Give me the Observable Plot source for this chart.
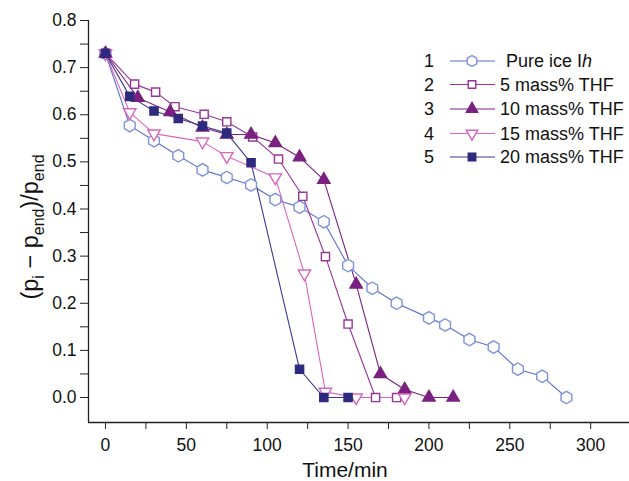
<!DOCTYPE html>
<html><head><meta charset="utf-8">
<script src="https://cdn.jsdelivr.net/npm/d3@7"></script>
<script src="https://cdn.jsdelivr.net/npm/@observablehq/plot@0.6"></script>
<style>body{margin:0;background:#fff}#chart{position:relative;width:629px;height:481px}</style>
</head><body><div id="chart"></div>
<script>
// ---- data ----
const seriesNames = ["Pure ice Ih", "5 mass% THF", "10 mass% THF", "15 mass% THF", "20 mass% THF"];
const t1 = [0,15,30,45,60,75,90,105,120,135,150,165,180,200,210,225,240,255,270,285];
const v1 = [0.73,0.577,0.545,0.513,0.483,0.467,0.451,0.42,0.404,0.373,0.28,0.232,0.2,0.169,0.154,0.123,0.107,0.06,0.045,0.0];
const t2 = [0,18,31,43,61,75,91,107,122,136,150,167,180];
const v2 = [0.73,0.665,0.648,0.617,0.601,0.585,0.553,0.506,0.427,0.299,0.156,0.0,0.0];
const t3 = [0,20,40,60,75,90,105,120,135,155,170,185,200,215];
const v3 = [0.73,0.636,0.606,0.573,0.558,0.558,0.54,0.51,0.462,0.24,0.05,0.017,0.0,0.0];
const t4 = [0,15,30,60,75,105,123,136,155,185];
const v4 = [0.73,0.605,0.56,0.543,0.512,0.467,0.263,0.012,0.0,0.0];
const t5 = [0,15,30,45,60,75,90,120,135,150];
const v5 = [0.73,0.639,0.608,0.592,0.576,0.561,0.498,0.06,0.0,0.0];
const xMajor = [0,50,100,150,200,250,300];
const xMinor = [25,75,125,175,225,275,325];
const yMajor = [0,0.1,0.2,0.3,0.4,0.5,0.6,0.7,0.8];
const yMinor = [0.05,0.15,0.25,0.35,0.45,0.55,0.65,0.75];

// ---- styles ----
const styles = [
  {line:"#5a6fcc", stroke:"#7f92dc", fill:"white", symbol:"hexagon", r:5.4, rotate:0},
  {line:"#96359a", stroke:"#96359a", fill:"white", symbol:"square", r:4.6, rotate:0},
  {line:"#7a2080", stroke:"#7a2080", fill:"#7a2080", symbol:"triangle", r:4.6, rotate:0},
  {line:"#d865bd", stroke:"#d865bd", fill:"white", symbol:"triangle", r:4.6, rotate:180},
  {line:"#3b3990", stroke:"#2e2b7e", fill:"#2e2b7e", symbol:"square", r:4.6, rotate:0}
];
const times = [t1,t2,t3,t4,t5], vals = [v1,v2,v3,v4,v5];
const series = times.map((t,i)=>t.map((x,j)=>({t:x, v:vals[i][j], s:i})));

const xDom = [-10.5, 324], yDom = [-0.053, 0.8];
const font = "'Liberation Sans', Arial, Helvetica, sans-serif";

const marks = [
  Plot.ruleX([xDom[0]], {stroke:"#222", strokeWidth:1.3}),
  Plot.ruleY([yDom[0]], {stroke:"#222", strokeWidth:1.3}),
  Plot.axisX(xMajor, {tickSize:7, tickPadding:9, tickFormat:d=>String(d), label:null, fontSize:17.5, stroke:"#222", fill:"#111"}),
  Plot.axisX(xMinor, {tickSize:7, tickFormat:()=>"" , label:null, stroke:"#222"}),
  Plot.axisY(yMajor, {tickSize:8, tickPadding:4, tickFormat:d3.format(".1f"), label:null, fontSize:17.5, stroke:"#222", fill:"#111"}),
  Plot.axisY(yMinor, {tickSize:8, tickFormat:()=>"", label:null, stroke:"#222"})
];
series.forEach((d,i)=>{
  const st = styles[i];
  marks.push(Plot.line(d, {x:"t", y:"v", stroke:st.line, strokeWidth:1.1}));
});
series.forEach((d,i)=>{
  const st = styles[i];
  marks.push(Plot.dot(d, {x:"t", y:"v", symbol:()=>st.symbol, r:st.r, rotate:st.rotate, stroke:st.stroke, fill:st.fill, strokeWidth:1.4}));
});

const chart = Plot.plot({
  width:629, height:481, marginLeft:88, marginRight:0, marginTop:20, marginBottom:59,
  x:{domain:xDom}, y:{domain:yDom},
  symbol:{type:"identity"},
  style:{fontFamily:font, fontSize:"17.5px", background:"white", color:"#111"},
  marks
});
document.getElementById("chart").appendChild(chart);

// titles and legend
const svg = d3.select(chart);
svg.append("text").attr("x",345).attr("y",476.5).attr("text-anchor","middle")
  .attr("font-family",font).attr("font-size",21).attr("fill","#111").text("Time/min");
const yl = svg.append("text").attr("transform","translate(38,227) rotate(-90)").attr("text-anchor","middle")
  .attr("font-family",font).attr("font-size",23.5).attr("fill","#111");
yl.append("tspan").text("(p");
yl.append("tspan").attr("font-size",16).attr("dy",6).text("i");
yl.append("tspan").attr("dy",-6).text(" \u2212 p");
yl.append("tspan").attr("font-size",16).attr("dy",6).text("end");
yl.append("tspan").attr("dy",-6).text(")/p");
yl.append("tspan").attr("font-size",16).attr("dy",6).text("end");

const rowsY = [61,84.5,109,133.5,157];
const sym = {hexagon:d3.symbol().type({draw(ctx,size){const r=Math.sqrt(size/(3*Math.sqrt(3)/2));for(let k=0;k<6;k++){const a=Math.PI/3*k-Math.PI/2;const px=r*Math.cos(a),py=r*Math.sin(a);k?ctx.lineTo(px,py):ctx.moveTo(px,py);}ctx.closePath();}}),
  square:d3.symbol().type(d3.symbolSquare), triangle:d3.symbol().type(d3.symbolTriangle)};
const lg = svg.append("g").attr("text-anchor","start");
styles.forEach((st,i)=>{
  const y = rowsY[i];
  lg.append("text").attr("x",429).attr("y",y+6).attr("text-anchor","middle").attr("font-family",font).attr("font-size",18).attr("fill","#111").text(String(i+1));
  lg.append("line").attr("x1",450).attr("x2",495).attr("y1",y).attr("y2",y).attr("stroke",st.line).attr("stroke-width",1.2);
  const s = sym[st.symbol].size(Math.PI*st.r*st.r*0.85);
  lg.append("path").attr("d",s()).attr("transform",`translate(472,${y}) rotate(${st.rotate})`)
    .attr("fill",st.fill).attr("stroke",st.stroke).attr("stroke-width",1.4);
  const t = lg.append("text").attr("x", i===0?506:500).attr("y",y+6).attr("text-anchor","start").attr("font-family",font).attr("font-size",18).attr("fill","#111");
  if(i===0){ t.append("tspan").text("Pure ice I"); t.append("tspan").attr("font-style","italic").text("h"); }
  else t.text(seriesNames[i]);
});
</script></body></html>
